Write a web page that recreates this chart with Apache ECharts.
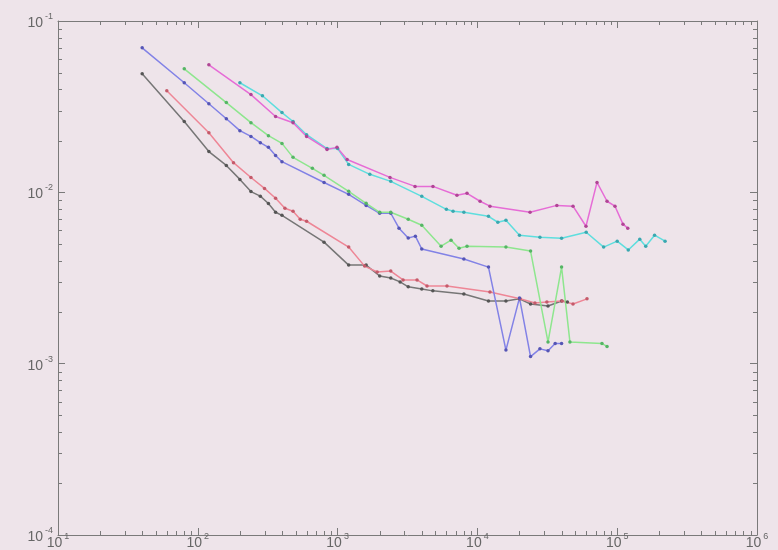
<!DOCTYPE html>
<html>
<head>
<meta charset="utf-8">
<script src="https://cdn.jsdelivr.net/npm/echarts@6/dist/echarts.min.js"></script>
<style>
html,body{margin:0;padding:0;background:#eee4ea;}
#chart{width:778px;height:550px;}
</style>
</head>
<body>
<div id="chart"></div>
<script>
// ---- data ----
const blackX = [40,80,120,160,200,240,280,320,360,400,800,1200,1600,2000,2400,2800,3200,4000,4800,8000,12000,16000,20000,24000,32000,40000,44000];
const blackY = [0.0492,0.0259,0.0173,0.01435,0.0119,0.0101,0.0095,0.0086,0.00765,0.00734,0.00512,0.00376,0.00376,0.00325,0.00316,0.00300,0.00281,0.00273,0.00266,0.00255,0.00232,0.00232,0.00239,0.00223,0.00217,0.00232,0.00229];

const redX = [60,120,180,240,300,360,420,480,540,600,1200,1560,1920,2400,2940,3700,4360,6060,12300,20200,25800,31400,40300,48300,60800];
const redY = [0.0392,0.0223,0.0149,0.0122,0.01054,0.00923,0.00807,0.00776,0.00697,0.00678,0.00479,0.00371,0.00343,0.00347,0.00308,0.00308,0.00284,0.00284,0.00262,0.00239,0.00226,0.00229,0.00232,0.00223,0.00239];

const blueX = [40,80,120,160,200,240,280,320,360,400,800,1200,1600,2000,2400,2750,3200,3600,4000,8000,12000,16000,20000,24000,28000,32000,36000,40000];
const blueY = [0.0697,0.0436,0.0329,0.0269,0.0229,0.0212,0.0195,0.0183,0.0164,0.0151,0.01142,0.00973,0.00839,0.00755,0.00755,0.00618,0.00541,0.00555,0.00467,0.00408,0.00366,0.00120,0.00242,0.00110,0.00122,0.00119,0.00131,0.00131];

const greenX = [80,160,240,320,400,480,660,800,1200,1600,2000,2400,3200,4000,5500,6480,7390,8430,16000,24000,32000,40000,45900,77800,84600];
const greenY = [0.0526,0.0334,0.0255,0.0214,0.0193,0.0160,0.0138,0.01256,0.01014,0.00863,0.00765,0.00765,0.00697,0.00643,0.00485,0.00526,0.00472,0.00485,0.00479,0.00454,0.00134,0.00366,0.00134,0.00131,0.00126];

const magentaX = [120,240,360,480,600,840,990,1170,2370,3580,4810,7140,8430,10450,12300,23800,37000,48300,59800,71700,84600,96400,110000,119000];
const magentaY = [0.0555,0.0372,0.0277,0.0255,0.0212,0.0178,0.0183,0.01556,0.01222,0.01083,0.01083,0.00962,0.00987,0.00887,0.00830,0.00766,0.00839,0.00830,0.00634,0.01143,0.00887,0.00830,0.00652,0.00618];

const cyanX = [200,290,400,480,600,840,1000,1200,1700,2400,4000,6000,6700,8000,12000,14000,16000,20000,28000,40000,60000,80000,100000,120000,145000,160000,185000,220000];
const cyanY = [0.0436,0.0366,0.0292,0.0259,0.0217,0.0180,0.0180,0.01456,0.01274,0.01159,0.00948,0.00796,0.00776,0.00766,0.00725,0.00669,0.00688,0.00562,0.00547,0.00540,0.00585,0.00479,0.00519,0.00461,0.00533,0.00485,0.00562,0.00519];

const xMin = 10, xMax = 1e6;
const yMin = 1e-4, yMax = 1e-1;

// ---- chart ----
(function () {
const zip = (xs, ys) => xs.map((x, i) => [x, ys[i]]);
const axisCol = '#7a7a7a';
const lblCol = '#666666';
const rich = {
  b: {fontSize: 14, color: lblCol, fontFamily: 'Liberation Sans', lineHeight: 18, verticalAlign: 'bottom'},
  e: {fontSize: 9, color: lblCol, fontFamily: 'Liberation Sans', lineHeight: 10, verticalAlign: 'top', padding: [0, 0, 0, 2]}
};
const fmt = v => '{b|10}{e|' + Math.round(Math.log10(v)) + '}';

function mkAxis(pos, isX, showLabel) {
  return {
    type: 'log', logBase: 10, position: pos,
    min: isX ? xMin : yMin, max: isX ? xMax : yMax,
    axisLine: {show: true, onZero: false, lineStyle: {color: axisCol, width: 1}},
    axisTick: {show: true, inside: true, length: 7, lineStyle: {color: axisCol, width: 1}},
    minorTick: {show: false},
    splitLine: {show: false},
    axisLabel: showLabel ? {show: true, formatter: fmt, rich: rich, margin: isX ? -3 : 5} : {show: false}
  };
}

function mkSeries(name, xs, ys, lineCol, dotCol) {
  return {
    name: name, type: 'line', xAxisIndex: 0, yAxisIndex: 0,
    data: zip(xs, ys),
    symbol: 'circle', symbolSize: 3.5, showSymbol: true,
    lineStyle: {color: lineCol, width: 1.5},
    itemStyle: {color: dotCol, borderWidth: 0},
    emphasis: {disabled: true}
  };
}

const chart = echarts.init(document.getElementById('chart'), null, {renderer: 'canvas'});
chart.setOption({
  animation: false,
  backgroundColor: '#eee4ea',
  grid: {left: 58, right: 21, top: 21, bottom: 13},
  xAxis: [mkAxis('bottom', true, true), mkAxis('top', true, false)],
  yAxis: [mkAxis('left', false, true), mkAxis('right', false, false)],
  series: [
    mkSeries('black', blackX, blackY, '#767676', '#555555'),
    mkSeries('red', redX, redY, '#ee8696', '#c45a6a'),
    mkSeries('blue', blueX, blueY, '#8282e6', '#5555b5'),
    mkSeries('green', greenX, greenY, '#8ee68e', '#55b565'),
    mkSeries('cyan', cyanX, cyanY, '#5edede', '#3aa8b0'),
    mkSeries('magenta', magentaX, magentaY, '#e66cd6', '#b04595')
  ]
});

// minor ticks (2..9 x 10^k) placed through the axes' own scales
const px = v => chart.convertToPixel({xAxisIndex: 0}, v);
const py = v => chart.convertToPixel({yAxisIndex: 0}, v);
const gLeft = px(xMin), gRight = px(xMax), gBottom = py(yMin), gTop = py(yMax);
const minorLen = 4;
const els = [];
const tickStyle = {stroke: axisCol, lineWidth: 1};
function minorValues(lo, hi) {
  const out = [];
  for (let k = Math.floor(Math.log10(lo)); k < Math.ceil(Math.log10(hi)); k++) {
    for (let m = 2; m <= 9; m++) out.push(m * Math.pow(10, k));
  }
  return out;
}
minorValues(xMin, xMax).forEach(v => {
  const x = Math.round(px(v)) + 0.5;
  els.push({type: 'line', silent: true, shape: {x1: x, y1: gBottom, x2: x, y2: gBottom - minorLen}, style: tickStyle});
  els.push({type: 'line', silent: true, shape: {x1: x, y1: gTop, x2: x, y2: gTop + minorLen}, style: tickStyle});
});
minorValues(yMin, yMax).forEach(v => {
  const y = Math.round(py(v)) + 0.5;
  els.push({type: 'line', silent: true, shape: {x1: gLeft, y1: y, x2: gLeft + minorLen, y2: y}, style: tickStyle});
  els.push({type: 'line', silent: true, shape: {x1: gRight, y1: y, x2: gRight - minorLen, y2: y}, style: tickStyle});
});
chart.setOption({graphic: {elements: els}});
})();
</script>
</body>
</html>
